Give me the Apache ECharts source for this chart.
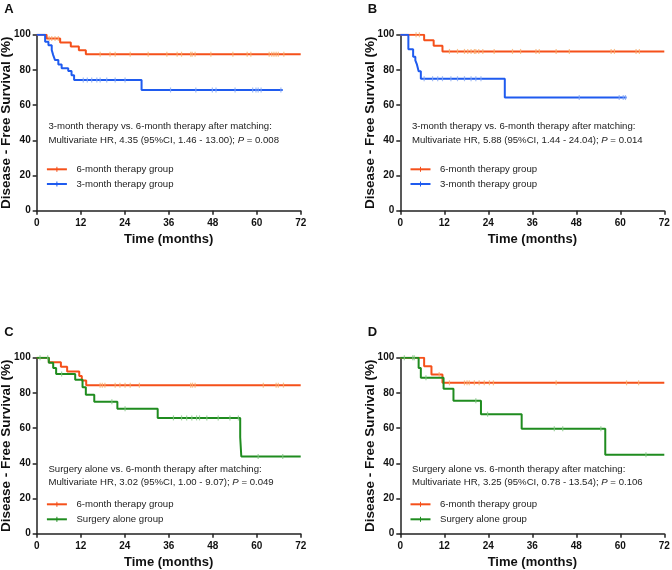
<!DOCTYPE html>
<html>
<head>
<meta charset="utf-8">
<script src="https://cdn.jsdelivr.net/npm/echarts@6/dist/echarts.min.js"></script>
<style>
  html, body { margin: 0; padding: 0; background: #fff; }
  #chart { width: 672px; height: 570px; }
</style>
</head>
<body>
<div id="chart"></div>
<script>
// tick labels
const monthTicks = [0, 12, 24, 36, 48, 60, 72];
const pctTicks = [0, 20, 40, 60, 80, 100];

// panel A
const aSix = [[0, 100], [2.7, 97.8], [6.4, 95.6], [9.3, 93.3], [11.5, 91.1], [13.4, 88.9], [72, 88.9]];
const aSixCensor = [3.4, 4.1, 5, 5.9, 17.3, 20, 21.4, 25.5, 30.4, 35.5, 38.3, 39.5, 42, 42.4, 43.2, 47.5, 53.5, 57.4, 58.4, 63.4, 64.1, 64.7, 65.3, 65.9, 67.4];
const aThree = [[0, 100], [2.3, 96], [3.2, 94], [4.1, 91.3], [4.5, 88.4], [5, 85.6], [5.9, 83.1], [6.8, 80.9], [8.6, 79.4], [9.5, 77], [10.2, 74.2], [28.6, 68.6], [67.1, 68.6]];
const aThreeCensor = [12.7, 13.8, 15, 16.4, 17.3, 19.1, 21.4, 24.1, 36.5, 43.4, 47.9, 48.9, 54.1, 58.9, 59.8, 60.4, 61.2, 66.6];

// panel B
const bSix = [[0, 100], [6.5, 96.8], [9.1, 93.7], [11.5, 90.5], [72, 90.5]];
const bSixCensor = [4.3, 5.2, 13.4, 15.6, 17.5, 18.4, 19.3, 20.2, 20.6, 21.4, 22.5, 25.6, 30.6, 32.8, 37, 37.9, 42.5, 46.1, 57.5, 58.4, 64.3, 65.2];
const bThree = [[0, 100], [2.2, 91.7], [3.5, 87.5], [4.1, 85.4], [4.5, 83.3], [5, 79.2], [5.6, 75], [28.5, 64.3], [61.7, 64.3]];
const bThreeCensor = [6.5, 8.8, 10.2, 11.5, 13.8, 15.6, 17.5, 19.3, 20.6, 22, 48.8, 59.7, 60.8, 61.4];

// panel C
const cSix = [[0, 100], [3.3, 97.4], [6.6, 94.8], [8.3, 92.2], [11.6, 89.6], [12.3, 87], [13.5, 84.4], [72, 84.4]];
const cSixCensor = [17.3, 17.9, 18.6, 21.4, 22.7, 24.1, 25.5, 28, 42, 42.5, 43.2, 61.8, 65.3, 65.9, 67.3];
const cSurg = [[0, 100], [3.3, 97.1], [4.5, 94.2], [5.3, 90.8], [10.5, 87.5], [12.5, 83.2], [13.4, 79], [15.7, 75], [22, 71], [33, 65.8], [55.5, 54.8], [55.8, 43.9], [72, 43.9]];
const cSurgCensor = [0.9, 3, 6.8, 20.5, 24.1, 37.3, 39.5, 40.9, 42.3, 43.6, 44.4, 46.4, 49.5, 52.7, 55, 60.4, 67.1];

// panel D
const dSix = [[0, 100], [6.5, 95.2], [8.5, 90.5], [11.5, 85.7], [72, 85.7]];
const dSixCensor = [10.6, 13.4, 17.5, 18.2, 18.8, 20.2, 21.5, 22.9, 24.3, 25.4, 42.5, 61.7, 65];
const dSurg = [[0, 100], [5, 94.1], [5.6, 88.6], [11.8, 82.4], [14.5, 75.5], [22, 67.9], [33.1, 59.7], [55.9, 44.8], [72, 44.8]];
const dSurgCensor = [1.1, 3.4, 3.8, 7, 20.6, 23.8, 42, 44.3, 54.7, 67];

const ORANGE = "#F5501A";
const BLUE = "#1F5BEF";
const GREEN = "#1F8C1F";
const FONT = "Liberation Sans, Arial, sans-serif";

// plot areas
const panels = [
  { left: 36.7, top: 34.7, letter: "A" },
  { left: 400.3, top: 34.7, letter: "B" },
  { left: 36.7, top: 357.7, letter: "C" },
  { left: 400.3, top: 357.7, letter: "D" }
];
const PW = 264, PH = 176;

// value of a step curve at time t (for placing censor ticks on the curve)
function survAt(curve, t) {
  let v = curve[0][1];
  for (const p of curve) { if (p[0] <= t) v = p[1]; }
  return v;
}

function lineSeries(name, data, color, idx) {
  return {
    type: "line", name: name, xAxisIndex: idx, yAxisIndex: idx,
    step: "end", data: data, symbol: "none", z: 2,
    lineStyle: { color: color, width: 2 }
  };
}
function censorSeries(curve, times, color, idx) {
  return {
    type: "scatter", xAxisIndex: idx, yAxisIndex: idx, silent: true, z: 3,
    data: times.map(t => [t, survAt(curve, t)]),
    symbol: "rect", symbolSize: [1.2, 5],
    itemStyle: { color: color }
  };
}

const series = [
  lineSeries("6-month therapy group", aSix, ORANGE, 0),
  lineSeries("3-month therapy group", aThree, BLUE, 0),
  censorSeries(aSix, aSixCensor, "#F7B070", 0),
  censorSeries(aThree, aThreeCensor, "#86A9F5", 0),
  lineSeries("6-month therapy group", bSix, ORANGE, 1),
  lineSeries("3-month therapy group", bThree, BLUE, 1),
  censorSeries(bSix, bSixCensor, "#F7B070", 1),
  censorSeries(bThree, bThreeCensor, "#86A9F5", 1),
  lineSeries("6-month therapy group", cSix, ORANGE, 2),
  lineSeries("Surgery alone group", cSurg, GREEN, 2),
  censorSeries(cSix, cSixCensor, "#F7B070", 2),
  censorSeries(cSurg, cSurgCensor, "#86C886", 2),
  lineSeries("6-month therapy group", dSix, ORANGE, 3),
  lineSeries("Surgery alone group", dSurg, GREEN, 3),
  censorSeries(dSix, dSixCensor, "#F7B070", 3),
  censorSeries(dSurg, dSurgCensor, "#86C886", 3)
];

const axisLine = { show: true, lineStyle: { color: "#222", width: 1.5 } };
const axisTick = { show: true, length: 4, lineStyle: { color: "#222", width: 1.5 } };

// fixed plot boxes, no automatic shrinking for labels
const grids = panels.map(p => ({
  left: p.left, top: p.top, width: PW, height: PH,
  containLabel: false, outerBoundsMode: "none"
}));
const xAxes = panels.map((p, i) => ({
  type: "value", gridIndex: i, min: 0, max: 72, interval: 12,
  name: "Time (months)", nameLocation: "middle", nameGap: 22, nameMoveOverlap: false,
  nameTextStyle: { fontFamily: FONT, fontWeight: "bold", fontSize: 13, color: "#111" },
  axisLine: axisLine, axisTick: axisTick, splitLine: { show: false },
  axisLabel: {
    fontFamily: FONT, fontWeight: "bold", fontSize: 10, color: "#111", margin: 8,
    formatter: v => (monthTicks.includes(v) ? String(v) : "")
  }
}));
const yAxes = panels.map((p, i) => ({
  type: "value", gridIndex: i, min: 0, max: 100, interval: 20,
  name: "Disease - Free Survival (%)", nameLocation: "middle", nameGap: 23, nameMoveOverlap: false,
  nameTextStyle: { fontFamily: FONT, fontWeight: "bold", fontSize: 13.5, color: "#111" },
  axisLine: axisLine, axisTick: axisTick, splitLine: { show: false },
  axisLabel: {
    fontFamily: FONT, fontWeight: "bold", fontSize: 10, color: "#111", margin: 6,
    formatter: v => (pctTicks.includes(v) ? String(v) : "")
  }
}));

// annotation text and legend per panel
const notes = [
  { l1: "3-month therapy vs. 6-month therapy after matching:", l2: "Multivariate HR, 4.35 (95%CI, 1.46 - 13.00); ", p: " = 0.008", g2: "3-month therapy group", c2: BLUE, dy: [92, 106, 134.6, 149.3] },
  { l1: "3-month therapy vs. 6-month therapy after matching:", l2: "Multivariate HR, 5.88 (95%CI, 1.44 - 24.04); ", p: " = 0.014", g2: "3-month therapy group", c2: BLUE, dy: [92, 106, 134.6, 149.3] },
  { l1: "Surgery alone vs. 6-month therapy after matching:", l2: "Multivariate HR, 3.02 (95%CI, 1.00 - 9.07); ", p: " = 0.049", g2: "Surgery alone group", c2: GREEN, dy: [111.6, 124.6, 146.6, 161.6] },
  { l1: "Surgery alone vs. 6-month therapy after matching:", l2: "Multivariate HR, 3.25 (95%CI, 0.78 - 13.54); ", p: " = 0.106", g2: "Surgery alone group", c2: GREEN, dy: [111.6, 124.6, 146.6, 161.6] }
];
const NOTE_SIZE = 9.6;

const graphic = [];
panels.forEach((p, i) => {
  const n = notes[i];
  const x0 = p.left + 11.7;
  graphic.push({
    type: "text", left: p.left - 32.5, top: p.top - 32,
    style: { text: p.letter, fontFamily: FONT, fontWeight: "bold", fontSize: 13, fill: "#111" }
  });
  graphic.push({
    type: "text", x: x0, y: p.top + n.dy[0],
    style: { text: n.l1, fontFamily: FONT, fontSize: NOTE_SIZE, fill: "#222", verticalAlign: "middle" }
  });
  graphic.push({
    type: "text", x: x0, y: p.top + n.dy[1],
    style: {
      text: "{n|" + n.l2 + "}{i|P}{n|" + n.p + "}",
      verticalAlign: "middle",
      rich: {
        n: { fontFamily: FONT, fontSize: NOTE_SIZE, fill: "#222" },
        i: { fontFamily: FONT, fontSize: NOTE_SIZE, fontStyle: "italic", fill: "#222" }
      }
    }
  });
  [["6-month therapy group", ORANGE, n.dy[2]], [n.g2, n.c2, n.dy[3]]].forEach(([label, col, dy]) => {
    const y = p.top + dy;
    graphic.push({ type: "line", shape: { x1: x0 - 1.5, y1: y, x2: x0 + 18.5, y2: y }, style: { stroke: col, lineWidth: 2 } });
    graphic.push({ type: "line", shape: { x1: x0 + 8.5, y1: y - 2.5, x2: x0 + 8.5, y2: y + 2.5 }, style: { stroke: col, lineWidth: 1 } });
    graphic.push({
      type: "text", x: x0 + 28, y: y,
      style: { text: label, fontFamily: FONT, fontSize: NOTE_SIZE, fill: "#222", verticalAlign: "middle" }
    });
  });
});

const chart = echarts.init(document.getElementById("chart"));
chart.setOption({
  animation: false,
  backgroundColor: "#fff",
  grid: grids,
  xAxis: xAxes,
  yAxis: yAxes,
  series: series,
  graphic: graphic
});
</script>
</body>
</html>
